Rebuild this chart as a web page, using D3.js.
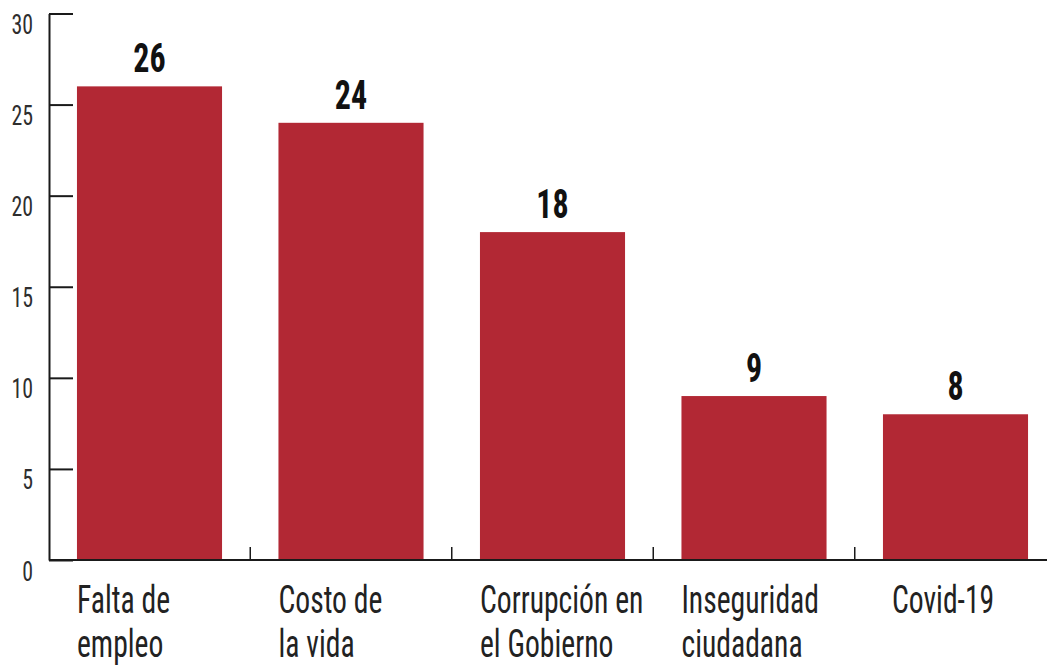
<!DOCTYPE html>
<html>
<head>
<meta charset="utf-8">
<script src="https://cdn.jsdelivr.net/npm/d3@7"></script>
<style>
  html, body { margin: 0; padding: 0; background: #fff; }
  svg { display: block; }
  text { font-family: "Liberation Sans Narrow", "Roboto Condensed", "Liberation Sans", sans-serif; fill: #1b1b1b; }
</style>
</head>
<body>
<svg id="chart" width="1047" height="667"></svg>
<script>
const categories = [
  ["Falta de", "empleo"],
  ["Costo de", "la vida"],
  ["Corrupción en", "el Gobierno"],
  ["Inseguridad", "ciudadana"],
  ["Covid-19"]
];
const values = [26, 24, 18, 9, 8];
const yTicks = [0, 5, 10, 15, 20, 25, 30];

const W = 1047, H = 667;
const svg = d3.select("#chart");
const barColor = "#b22834";
const axisColor = "#1a1a1a";
const sx = 0.8;

const axisX = 49, baseY = 560, topY = 13.5;

const x = d3.scaleBand()
  .domain(d3.range(values.length))
  .range([48.75, 48.75 + 5 * 201.5])
  .paddingInner(0.28)
  .paddingOuter(0.14);

const y = d3.scaleLinear().domain([0, 30]).range([baseY, topY]);

// bars
svg.append("g").selectAll("rect")
  .data(values)
  .join("rect")
  .attr("x", (d, i) => x(i))
  .attr("y", d => y(d))
  .attr("width", x.bandwidth())
  .attr("height", d => y(0) - y(d))
  .attr("fill", barColor);

// value labels
svg.append("g").selectAll("text")
  .data(values)
  .join("text")
  .attr("transform", (d, i) => `translate(${x(i) + x.bandwidth() / 2},${y(d) - 14}) scale(0.78,1)`)
  .attr("text-anchor", "middle")
  .attr("font-size", 41)
  .attr("font-weight", "bold")
  .style("fill", "#111")
  .text(d => d);

// y axis
const yAxis = svg.append("g").attr("transform", `translate(${axisX},0)`)
  .call(d3.axisLeft(y).tickValues(yTicks).tickSize(-24).tickSizeOuter(0).tickPadding(0));
yAxis.select(".domain").attr("stroke", axisColor).attr("stroke-width", 2);
yAxis.selectAll(".tick line").attr("stroke", axisColor).attr("stroke-width", 2);
yAxis.selectAll(".tick text")
  .attr("x", null).attr("dy", null)
  .attr("transform", `translate(-16,20) scale(0.78,1)`)
  .attr("font-size", 28)
  .attr("font-family", null)
  .attr("fill", null)
  .style("fill", "#2e2e2e");

// x baseline
svg.append("line")
  .attr("x1", axisX).attr("x2", W)
  .attr("y1", baseY).attr("y2", baseY)
  .attr("stroke", axisColor).attr("stroke-width", 2);

// separator ticks between bars
const gap = x.step() - x.bandwidth();
svg.append("g").selectAll("line")
  .data(d3.range(values.length - 1))
  .join("line")
  .attr("x1", i => x(i) + x.bandwidth() + gap / 2)
  .attr("x2", i => x(i) + x.bandwidth() + gap / 2)
  .attr("y1", baseY - 13).attr("y2", baseY)
  .attr("stroke", axisColor).attr("stroke-width", 1.5);

// category labels
const catG = svg.append("g").selectAll("g")
  .data(categories)
  .join("g");
catG.each(function(lines, i) {
  const g = d3.select(this);
  lines.forEach((ln, j) => {
    g.append("text")
      .attr("transform", `translate(${x(i) + (i === 4 ? 9 : 0)},${613 + j * 44}) scale(0.76,1)`)
      .attr("font-size", 39)
      .style("fill", "#222")
      .text(ln);
  });
});
</script>
</body>
</html>
